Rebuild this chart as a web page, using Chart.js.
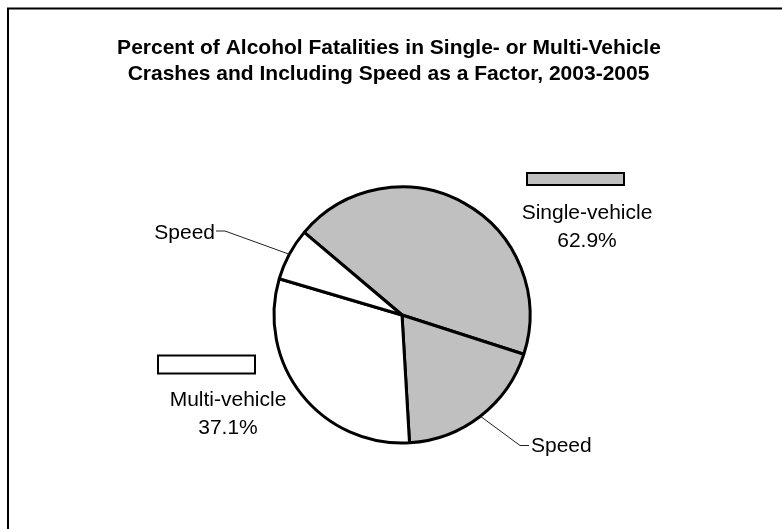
<!DOCTYPE html>
<html>
<head>
<meta charset="utf-8">
<script src="https://cdn.jsdelivr.net/npm/chart.js@4"></script>
<style>
  html, body { margin: 0; padding: 0; background: #fff; }
  #wrap { width: 782px; height: 529px; }
</style>
</head>
<body>
<div id="wrap"><canvas id="pieChart" width="782" height="529"></canvas></div>
<script>
// Chart data (percent of alcohol fatalities)
const titleLines = ["Percent of Alcohol Fatalities in Single- or Multi-Vehicle",
                    "Crashes and Including Speed as a Factor, 2003-2005"];
const sliceLabels = ["Single-vehicle", "Speed (single)", "Multi-vehicle", "Speed (multi)"];
const sliceValues = [43.8, 19.1, 30.5, 6.6];
const sliceColors = ["#c0c0c0", "#c0c0c0", "#ffffff", "#ffffff"];
const groupNames = ["Single-vehicle", "Multi-vehicle"];
const groupTotals = ["62.9%", "37.1%"];

const FONT = "'Liberation Sans', Arial, sans-serif";

// frame, title, group boxes and speed call-outs
const decorPlugin = {
    id: "decor",
    beforeDraw(chart) {
        const ctx = chart.ctx;
        ctx.save();
        ctx.fillStyle = "#fff";
        ctx.fillRect(0, 0, chart.width, chart.height);
        ctx.strokeStyle = "#000";
        ctx.lineWidth = 2;
        ctx.strokeRect(8, 8.5, 820, 600);
        // title
        ctx.fillStyle = "#000";
        ctx.font = "bold 21px " + FONT;
        ctx.textAlign = "center";
        ctx.textBaseline = "alphabetic";
        ctx.fillText(titleLines[0], 389, 54);
        ctx.fillText(titleLines[1], 388.5, 80);
        ctx.restore();
    },
    afterDraw(chart) {
        const ctx = chart.ctx;
        const arcs = chart.getDatasetMeta(0).data;
        ctx.save();
        // group boxes
        ctx.lineWidth = 2;
        ctx.strokeStyle = "#000";
        ctx.fillStyle = sliceColors[0];
        ctx.fillRect(527, 173, 97, 12);
        ctx.strokeRect(527, 173, 97, 12);
        ctx.fillStyle = sliceColors[2];
        ctx.fillRect(158, 355.5, 97, 18);
        ctx.strokeRect(158, 355.5, 97, 18);
        // group labels
        ctx.fillStyle = "#000";
        ctx.font = "21px " + FONT;
        ctx.textAlign = "center";
        ctx.textBaseline = "alphabetic";
        ctx.fillText(groupNames[0], 587, 219);
        ctx.fillText(groupTotals[0], 587, 247);
        ctx.fillText(groupNames[1], 228, 406);
        ctx.fillText(groupTotals[1], 228, 434);

        // call-outs for the speed slices, starting at each arc's mid-angle
        function edgePoint(arc) {
            const p = arc.getProps(["x", "y", "startAngle", "endAngle", "outerRadius"], true);
            const a = (p.startAngle + p.endAngle) / 2;
            return [p.x + Math.cos(a) * p.outerRadius, p.y + Math.sin(a) * p.outerRadius];
        }
        ctx.lineWidth = 1;
        ctx.strokeStyle = "#222";
        let e = edgePoint(arcs[3]);
        ctx.beginPath();
        ctx.moveTo(e[0], e[1]);
        ctx.lineTo(225, 231);
        ctx.lineTo(216, 231);
        ctx.stroke();
        ctx.textAlign = "right";
        ctx.fillText("Speed", 215, 239);
        e = edgePoint(arcs[1]);
        ctx.beginPath();
        ctx.moveTo(e[0], e[1]);
        ctx.lineTo(520, 445.5);
        ctx.lineTo(529, 445.5);
        ctx.stroke();
        ctx.textAlign = "left";
        ctx.fillText("Speed", 531, 452);
        ctx.restore();
    }
};

const ctx = document.getElementById("pieChart").getContext("2d");
new Chart(ctx, {
    type: "pie",
    data: {
        labels: sliceLabels,
        datasets: [{
            data: sliceValues,
            backgroundColor: sliceColors,
            borderColor: "#000",
            borderWidth: 3
        }]
    },
    options: {
        responsive: false,
        animation: false,
        events: [],
        rotation: -49.8,
        radius: 128,
        layout: { padding: { left: 22, right: 0, top: 101, bottom: 0 } },
        plugins: {
            legend: { display: false },
            title: { display: false },
            tooltip: { enabled: false }
        }
    },
    plugins: [decorPlugin]
});
</script>
</body>
</html>
